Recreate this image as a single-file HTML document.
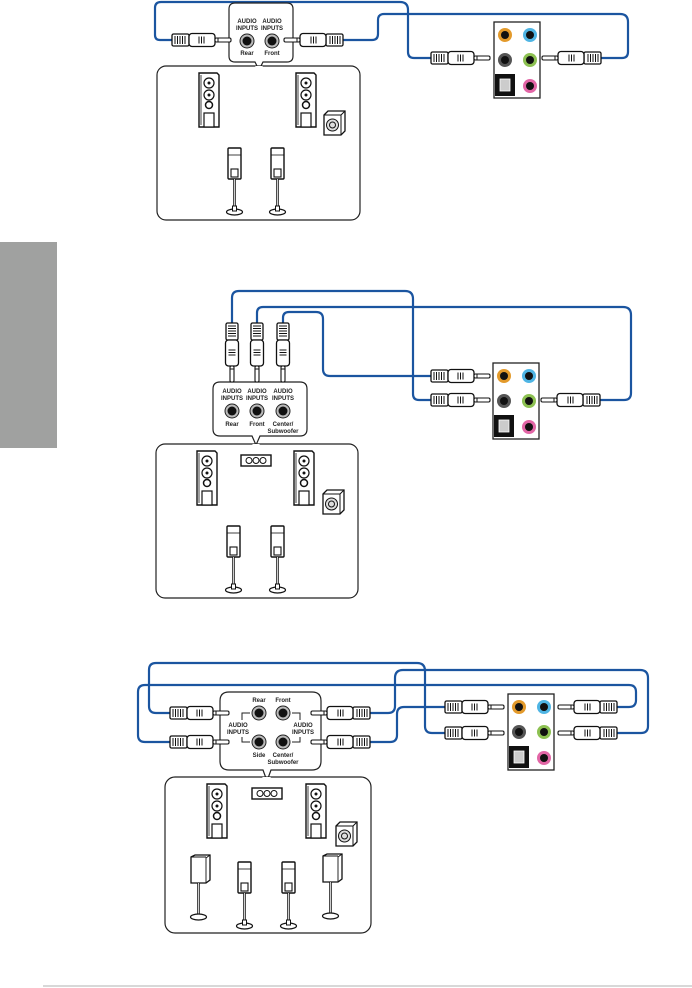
<!DOCTYPE html>
<html><head><meta charset="utf-8"><style>
html,body{margin:0;padding:0;background:#fff;}
svg{display:block;}
text{font-family:"Liberation Sans",Arial,sans-serif;font-weight:bold;font-size:6px;fill:#222;text-anchor:middle;}
</style></head><body>
<svg width="692" height="988" viewBox="0 0 692 988" xmlns="http://www.w3.org/2000/svg">
<defs>
<g id="plug">
 <rect x="0" y="-6" width="17" height="12" rx="1.5" fill="#fff" stroke="#111" stroke-width="1.3"/>
 <path d="M3-4v8M5.5-4v8M8-4v8M10.5-4v8M13-4v8" stroke="#111" stroke-width="1"/>
 <rect x="17" y="-6.5" width="26" height="13" rx="3" fill="#fff" stroke="#111" stroke-width="1.3"/>
 <path d="M27-3.5v7M29.5-3.5v7M32-3.5v7" stroke="#111" stroke-width="1"/>
 <rect x="43" y="-2" width="16" height="4" rx="1.5" fill="#fff" stroke="#111" stroke-width="1.1"/>
 <path d="M46-2.5v5" stroke="#111" stroke-width="1"/>
</g>
<g id="jack"><circle r="7" fill="#bbb" stroke="#222" stroke-width="1"/><circle r="4.5" fill="#111"/></g>
<g id="tower">
 <path d="M0,0h18l2,2v52h-20z" fill="#fff" stroke="#111" stroke-width="1.4"/>
 <path d="M2,2v50" stroke="#111" stroke-width="0.8"/>
 <circle cx="10" cy="10" r="5" fill="#fff" stroke="#111" stroke-width="1.2"/><circle cx="10" cy="10" r="1.5" fill="#111"/>
 <circle cx="10" cy="22" r="5" fill="#fff" stroke="#111" stroke-width="1.2"/><circle cx="10" cy="22" r="1.5" fill="#111"/>
 <circle cx="10" cy="32" r="3.5" fill="#fff" stroke="#111" stroke-width="1.5"/>
 <rect x="5" y="40" width="10" height="14" fill="#fff" stroke="#111" stroke-width="1.2"/>
</g>
<g id="sub">
 <path d="M0,4l4,-4h17v20l-4,4h-17z" fill="#fff" stroke="#111" stroke-width="1.3"/>
 <path d="M0,4h17v20M17,4l4,-4" fill="none" stroke="#111" stroke-width="1"/>
 <circle cx="8.5" cy="14" r="6" fill="#ddd" stroke="#111" stroke-width="1"/><circle cx="8.5" cy="14" r="3" fill="none" stroke="#111" stroke-width="1"/>
</g>
<g id="sat">
 <rect x="0" y="0" width="13" height="31" rx="1" fill="#fff" stroke="#111" stroke-width="1.4"/>
 <path d="M0,7h13" stroke="#111" stroke-width="0.8"/>
 <rect x="3" y="21" width="7" height="8" fill="#fff" stroke="#111" stroke-width="1.1"/>
 <path d="M6.5,31v30" stroke="#111" stroke-width="2.5"/><path d="M6.5,31v30" stroke="#fff" stroke-width="0.8"/>
 <ellipse cx="6.5" cy="64" rx="8" ry="3" fill="#fff" stroke="#111" stroke-width="1.2"/>
 <rect x="4.5" y="58" width="4" height="5" fill="#fff" stroke="#111" stroke-width="1"/>
</g>
<g id="sat2">
 <path d="M0,2l4,-2h15v25l-4,3h-15z" fill="#fff" stroke="#111" stroke-width="1.3"/>
 <path d="M15,28v-25l4,-3M0,2h15" fill="none" stroke="#111" stroke-width="0.9"/>
 <path d="M7.5,28v32" stroke="#111" stroke-width="2.5"/><path d="M7.5,28v32" stroke="#fff" stroke-width="0.8"/>
 <ellipse cx="7.5" cy="62" rx="8" ry="3" fill="#fff" stroke="#111" stroke-width="1.2"/>
</g>
<g id="center">
 <rect x="0" y="0" width="30" height="11" fill="#fff" stroke="#111" stroke-width="1.4"/>
 <circle cx="8" cy="5.5" r="3" fill="#fff" stroke="#111"/><circle cx="15" cy="5.5" r="3" fill="#fff" stroke="#111"/><circle cx="22" cy="5.5" r="3" fill="#fff" stroke="#111"/>
</g>
<g id="panel">
 <rect x="0" y="0" width="46" height="76" fill="#fff" stroke="#222" stroke-width="1.3"/>
 <circle cx="11" cy="13" r="7" fill="#e39a2b"/><circle cx="11" cy="13" r="4" fill="#111"/>
 <circle cx="36" cy="13" r="7" fill="#4fb5e4"/><circle cx="36" cy="13" r="4" fill="#111"/>
 <circle cx="11" cy="38" r="7" fill="#555"/><circle cx="11" cy="38" r="4" fill="#111"/>
 <circle cx="36" cy="38" r="7" fill="#8dc152"/><circle cx="36" cy="38" r="4" fill="#111"/>
 <rect x="1" y="52" width="20" height="22" fill="#111"/><rect x="6" y="57" width="10" height="12" fill="#ccc" stroke="#fff" stroke-width="0.8"/>
 <circle cx="36" cy="64" r="7" fill="#e266a6"/><circle cx="36" cy="64" r="4" fill="#111"/>
</g>
</defs>

<rect x="0" y="242" width="57" height="206" fill="#a0a1a0"/>
<rect x="43" y="985" width="649" height="2" fill="#d8d8d8"/>

<!-- ===== Section 1 ===== -->
<g fill="none" stroke="#1b55a0" stroke-width="2.2">
 <path d="M172,40H160q-5,0 -5,-5V8q0,-6 6,-6H400q8,0 8,8V52q0,6 6,6H431"/>
 <path d="M343,40H372q6,0 6,-6V20q0,-6 6,-6H620q8,0 8,8V52q0,6 -6,6H601"/>
</g>
<path d="M235,3h52q6,0 6,6v47q0,6 -6,6h-24l-4,8l-4,-8h-20q-6,0 -6,-6v-47q0,-6 6,-6z" fill="#fff" stroke="#222" stroke-width="1.2"/>
<rect x="157" y="66" width="203" height="154" rx="9" fill="#fff" stroke="#222" stroke-width="1.2"/>
<path d="M255,66l4,4l4,-4" fill="#fff" stroke="none"/>
<text x="247" y="23">AUDIO</text><text x="247" y="30">INPUTS</text>
<text x="272" y="23">AUDIO</text><text x="272" y="30">INPUTS</text>
<use href="#jack" x="247" y="41"/><use href="#jack" x="272" y="41"/>
<text x="247" y="55">Rear</text><text x="272" y="55">Front</text>
<use href="#plug" transform="translate(172,40)"/>
<use href="#plug" transform="translate(343,40) scale(-1,1)"/>
<use href="#panel" x="494" y="22"/>
<use href="#plug" transform="translate(431,58)"/>
<use href="#plug" transform="translate(601,58) scale(-1,1)"/>
<use href="#tower" x="199" y="73"/><use href="#tower" x="296" y="73"/>
<use href="#sub" x="324" y="111"/>
<use href="#sat" x="228" y="148"/><use href="#sat" x="271" y="148"/>

<!-- ===== Section 2 ===== -->
<g fill="none" stroke="#1b55a0" stroke-width="2.2">
 <path d="M232,323V298q0,-7 7,-7H405q8,0 8,8V394q0,6 6,6H431"/>
 <path d="M257,323V313q0,-6 6,-6H623q8,0 8,8V393q0,7 -7,7H600"/>
 <path d="M283,323V318q0,-6 6,-6H316q7,0 7,7V369q0,7 7,7H431"/>
</g>
<path d="M220,382h80q7,0 7,7v40q0,7 -7,7h-40l-4,9l-4,-9h-32q-7,0 -7,-7v-40q0,-7 7,-7z" fill="#fff" stroke="#222" stroke-width="1.2"/>
<rect x="156" y="444" width="202" height="154" rx="9" fill="#fff" stroke="#222" stroke-width="1.2"/>
<path d="M252,444l4,3l4,-3" fill="#fff"/>
<use href="#plug" transform="translate(232,323) rotate(90)"/>
<use href="#plug" transform="translate(257,323) rotate(90)"/>
<use href="#plug" transform="translate(283,323) rotate(90)"/>
<text x="232" y="393">AUDIO</text><text x="232" y="400">INPUTS</text>
<text x="257" y="393">AUDIO</text><text x="257" y="400">INPUTS</text>
<text x="283" y="393">AUDIO</text><text x="283" y="400">INPUTS</text>
<use href="#jack" x="232" y="411"/><use href="#jack" x="257" y="411"/><use href="#jack" x="283" y="411"/>
<text x="232" y="426">Rear</text><text x="257" y="426">Front</text><text x="283" y="426">Center/</text><text x="283" y="433">Subwoofer</text>
<use href="#panel" x="493" y="363"/>
<use href="#plug" transform="translate(431,376)"/>
<use href="#plug" transform="translate(431,400)"/>
<use href="#plug" transform="translate(600,400) scale(-1,1)"/>
<use href="#tower" x="197" y="451"/><use href="#tower" x="294" y="451"/>
<use href="#center" x="241" y="455"/>
<use href="#sub" x="323" y="490"/>
<use href="#sat" x="227" y="526"/><use href="#sat" x="271" y="526"/>

<!-- ===== Section 3 ===== -->
<g fill="none" stroke="#1b55a0" stroke-width="2.2">
 <path d="M170,713H156q-7,0 -7,-7V670q0,-7 7,-7H417q8,0 8,8V726q0,7 7,7H445"/>
 <path d="M170,742H145q-7,0 -7,-7V692q0,-7 7,-7H629q7,0 7,7V700q0,7 -7,7H617"/>
 <path d="M370,713H388q7,0 7,-7V678q0,-8 8,-8H640q8,0 8,8V726q0,7 -7,7H617"/>
 <path d="M370,742H390q7,0 7,-7V714q0,-7 7,-7H445"/>
</g>
<path d="M229,692h83q9,0 9,9v60q0,9 -9,9h-41l-4,11l-4,-11h-34q-9,0 -9,-9v-60q0,-9 9,-9z" fill="#fff" stroke="#222" stroke-width="1.2"/>
<rect x="165" y="777" width="206" height="156" rx="10" fill="#fff" stroke="#222" stroke-width="1.2"/>
<path d="M262,777l5,4l4,-4" fill="#fff"/>
<use href="#plug" transform="translate(170,713)"/>
<use href="#plug" transform="translate(170,742)"/>
<use href="#plug" transform="translate(370,713) scale(-1,1)"/>
<use href="#plug" transform="translate(370,742) scale(-1,1)"/>
<use href="#jack" x="259" y="713"/><use href="#jack" x="283" y="713"/>
<use href="#jack" x="259" y="742"/><use href="#jack" x="283" y="742"/>
<text x="259" y="702">Rear</text><text x="283" y="702">Front</text>
<text x="259" y="757">Side</text><text x="283" y="757">Center/</text><text x="283" y="764">Subwoofer</text>
<text x="238" y="727">AUDIO</text><text x="238" y="734">INPUTS</text>
<text x="303" y="727">AUDIO</text><text x="303" y="734">INPUTS</text>
<path d="M250,713h-8v7M250,742h-8v-5M292,713h8v7M292,742h8v-5" fill="none" stroke="#222" stroke-width="1"/>
<use href="#panel" x="508" y="694"/>
<use href="#plug" transform="translate(445,707)"/>
<use href="#plug" transform="translate(445,733)"/>
<use href="#plug" transform="translate(617,707) scale(-1,1)"/>
<use href="#plug" transform="translate(617,733) scale(-1,1)"/>
<use href="#tower" x="207" y="784"/><use href="#tower" x="306" y="784"/>
<use href="#center" x="252" y="788"/>
<use href="#sub" x="336" y="822"/>
<use href="#sat2" x="191" y="855"/><use href="#sat2" x="323" y="854"/>
<use href="#sat" x="238" y="862"/><use href="#sat" x="282" y="862"/>
</svg>
</body></html>
